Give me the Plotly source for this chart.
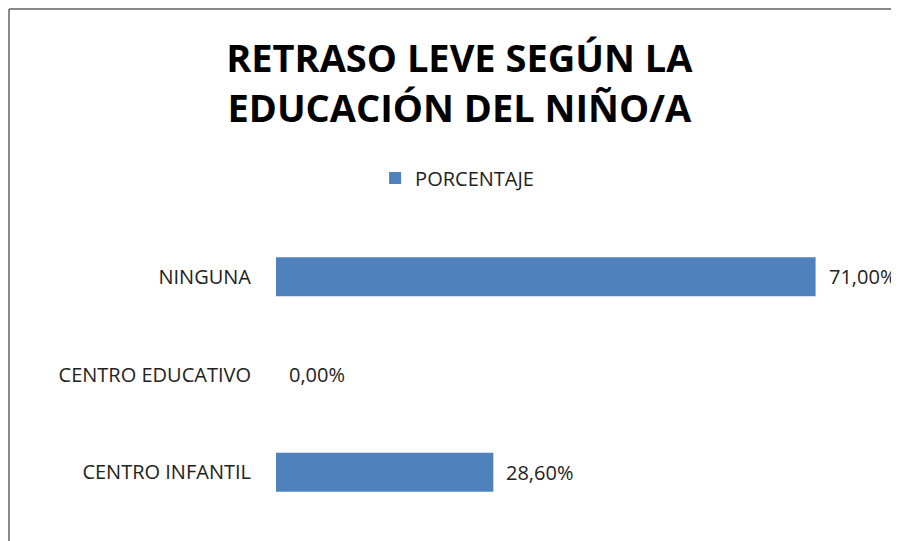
import plotly.graph_objects as go

categories = ["NINGUNA", "CENTRO EDUCATIVO", "CENTRO INFANTIL"]
values = [71.0, 0.0, 28.6]
labels = ["71,00%", "0,00%", "28,60%"]
series_name = "PORCENTAJE"
title_lines = ["RETRASO LEVE SEGÚN LA", "EDUCACIÓN DEL NIÑO/A"]

bar_color = "#4F81BD"
font_family = "Open Sans, Liberation Sans, sans-serif"

W, H = 899, 541
ML, MR, MT, MB = 268, 23, 220, 28
PW, PH = W - ML - MR, H - MT - MB

fig = go.Figure()
fig.add_trace(go.Bar(
    y=categories, x=values, orientation="h", name=series_name,
    marker=dict(color=bar_color, line=dict(width=0)),
    width=0.4, showlegend=True,
))

for c, v, t in zip(categories, values, labels):
    fig.add_annotation(x=v, y=c, text=t, xanchor="left", yanchor="middle",
                       xshift=11, showarrow=False,
                       font=dict(family=font_family, size=20, color="#222"))

fig.update_layout(
    width=W, height=H,
    paper_bgcolor="white", plot_bgcolor="white",
    margin=dict(l=ML, r=MR, t=MT, b=MB),
    title=dict(text="<br>".join(title_lines), x=0.502, xanchor="center",
               y=0.881, yanchor="top",
               font=dict(family=font_family, size=38, color="black", weight="bold")),
    legend=dict(orientation="h", x=0.163, xanchor="left", y=1.171, yanchor="middle",
                font=dict(family=font_family, size=20, color="#222"),
                itemwidth=30, bgcolor="rgba(0,0,0,0)"),
    xaxis=dict(range=[0, 80], visible=False, fixedrange=True),
    yaxis=dict(autorange=False, range=[2.5, -0.5], categoryorder="array",
               categoryarray=categories, showline=False, showgrid=False,
               ticks="outside", ticklen=20, tickcolor="white",
               tickfont=dict(family=font_family, size=20, color="#222")),
    shapes=[
        dict(type="line", xref="paper", yref="paper",
             x0=(1 - ML) / PW, x1=(1 - ML) / PW,
             y0=-MB / PH, y1=(H - MB - 1) / PH, line=dict(color="#888", width=2)),
        dict(type="line", xref="paper", yref="paper",
             x0=(1 - ML) / PW, x1=(W - ML) / PW,
             y0=(H - MB - 1) / PH, y1=(H - MB - 1) / PH, line=dict(color="#888", width=2)),
    ],
)
fig.write_html("out.html")
